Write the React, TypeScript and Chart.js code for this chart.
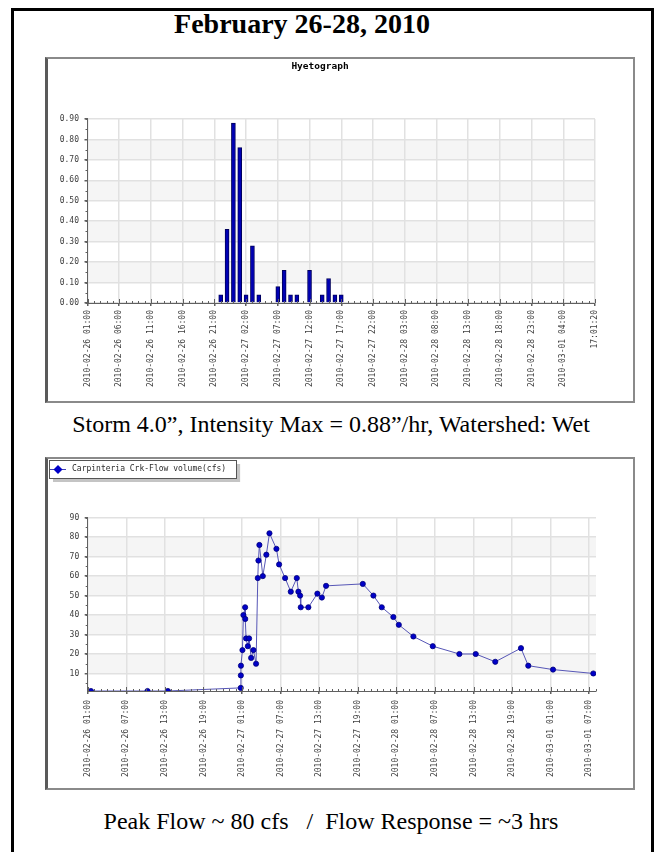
import React, { useEffect, useRef } from 'react';
import { Chart, registerables } from 'chart.js';

Chart.register(...registerables);

// ---------------- data ----------------
const startTime = '2010-02-26 01:00';

const rainTimes = [
  '2010-02-26 22:00', '2010-02-26 23:00', '2010-02-27 00:00', '2010-02-27 01:00',
  '2010-02-27 02:00', '2010-02-27 03:00', '2010-02-27 04:00', '2010-02-27 07:00',
  '2010-02-27 08:00', '2010-02-27 09:00', '2010-02-27 10:00', '2010-02-27 12:00',
  '2010-02-27 14:00', '2010-02-27 15:00', '2010-02-27 16:00', '2010-02-27 17:00',
];
const rainValues = [0.04, 0.36, 0.88, 0.76, 0.04, 0.28, 0.04, 0.08, 0.16, 0.04, 0.04, 0.16, 0.04, 0.12, 0.04, 0.04];

const rainYTicks = [0, 0.1, 0.2, 0.3, 0.4, 0.5, 0.6, 0.7, 0.8, 0.9];
const rainYRange = [0, 0.9];
const rainXTickTimes = [
  '2010-02-26 01:00', '2010-02-26 06:00', '2010-02-26 11:00', '2010-02-26 16:00', '2010-02-26 21:00',
  '2010-02-27 02:00', '2010-02-27 07:00', '2010-02-27 12:00', '2010-02-27 17:00', '2010-02-27 22:00',
  '2010-02-28 03:00', '2010-02-28 08:00', '2010-02-28 13:00', '2010-02-28 18:00', '2010-02-28 23:00',
  '2010-03-01 04:00', '2010-03-01 09:00',
];
const rainXTickLabels = [
  '2010-02-26 01:00', '2010-02-26 06:00', '2010-02-26 11:00', '2010-02-26 16:00', '2010-02-26 21:00',
  '2010-02-27 02:00', '2010-02-27 07:00', '2010-02-27 12:00', '2010-02-27 17:00', '2010-02-27 22:00',
  '2010-02-28 03:00', '2010-02-28 08:00', '2010-02-28 13:00', '2010-02-28 18:00', '2010-02-28 23:00',
  '2010-03-01 04:00', '17:01:20',
];

const flowTimes = [
  '2010-02-26 01:30', '2010-02-26 10:18', '2010-02-26 13:28', '2010-02-27 00:48',
  '2010-02-27 00:49', '2010-02-27 00:50', '2010-02-27 01:04', '2010-02-27 01:13',
  '2010-02-27 01:29', '2010-02-27 01:30', '2010-02-27 01:38', '2010-02-27 01:54',
  '2010-02-27 02:06', '2010-02-27 02:25', '2010-02-27 02:46', '2010-02-27 03:11',
  '2010-02-27 03:27', '2010-02-27 03:33', '2010-02-27 03:42', '2010-02-27 04:14',
  '2010-02-27 04:47', '2010-02-27 05:16', '2010-02-27 06:21', '2010-02-27 06:46',
  '2010-02-27 07:42', '2010-02-27 08:35', '2010-02-27 09:31', '2010-02-27 09:46',
  '2010-02-27 10:02', '2010-02-27 10:08', '2010-02-27 11:19', '2010-02-27 12:43',
  '2010-02-27 13:25', '2010-02-27 14:04', '2010-02-27 19:47', '2010-02-27 21:26',
  '2010-02-27 22:44', '2010-02-28 00:32', '2010-02-28 01:23', '2010-02-28 03:39',
  '2010-02-28 06:40', '2010-02-28 10:48', '2010-02-28 13:21', '2010-02-28 16:23',
  '2010-02-28 20:23', '2010-02-28 21:31', '2010-03-01 01:22', '2010-03-01 07:38',
];
const flowValues = [
  1, 1, 1, 2.6,
  9, 14, 22, 40,
  44, 38, 28, 24,
  28, 18, 22, 15,
  59, 68, 76, 60,
  71, 82, 74, 66,
  59, 52, 59, 52,
  50, 44, 44, 51,
  49, 55, 56, 50,
  44, 39, 35, 29,
  24, 20, 20, 16,
  23, 14, 12, 10,
];

const flowYTicks = [10, 20, 30, 40, 50, 60, 70, 80, 90];
const flowYRange = [1, 90];
const flowXRange = ['2010-02-26 01:00', '2010-03-01 08:03'];
const flowXTickTimes = [
  '2010-02-26 01:00', '2010-02-26 07:00', '2010-02-26 13:00', '2010-02-26 19:00',
  '2010-02-27 01:00', '2010-02-27 07:00', '2010-02-27 13:00', '2010-02-27 19:00',
  '2010-02-28 01:00', '2010-02-28 07:00', '2010-02-28 13:00', '2010-02-28 19:00',
  '2010-03-01 01:00', '2010-03-01 07:00',
];

const flowLabel = 'Carpinteria Crk-Flow volume(cfs)';
const titleText = 'February 26-28, 2010';
const caption1 = 'Storm 4.0\u201D, Intensity Max = 0.88\u201D/hr, Watershed: Wet';
const caption2 = 'Peak Flow ~ 80 cfs   /  Flow Response = ~3 hrs';

// ---------------- helpers ----------------
const toHours = (s: string) => {
  const [d, t] = s.split(' ');
  const [Y, M, D] = d.split('-').map(Number);
  const [h, m] = t.split(':').map(Number);
  const [d0, t0] = startTime.split(' ');
  const [Y0, M0, D0] = d0.split('-').map(Number);
  const [h0, m0] = t0.split(':').map(Number);
  return (Date.UTC(Y, M - 1, D, h, m) - Date.UTC(Y0, M0 - 1, D0, h0, m0)) / 3600000;
};

const MONO = '"DejaVu Sans Mono", monospace';
const GRID = '#e1e1e1';
const AXIS = '#606060';
const TICKTXT = '#404040';

const bandsPlugin = {
  id: 'bands',
  beforeDraw(chart: any, _args: any, opts: any) {
    const { ctx, chartArea: a, scales } = chart;
    const y = scales.y;
    const vals = y.ticks.map((t: any) => t.value);
    ctx.save();
    ctx.fillStyle = opts.color;
    for (let i = 0; i < vals.length - 1; i++) {
      if (Math.round(vals[i] / opts.step) % 2 === 1) {
        const top = y.getPixelForValue(vals[i + 1]);
        const bot = y.getPixelForValue(vals[i]);
        ctx.fillRect(a.left, top, a.right - a.left, bot - top);
      }
    }
    ctx.restore();
  },
};

const minorTicksPlugin = {
  id: 'minorTicks',
  afterDatasetsDraw(chart: any, _args: any, opts: any) {
    const { ctx, chartArea: a, scales } = chart;
    const x = scales.x;
    const y = scales.y;
    ctx.save();
    ctx.strokeStyle = opts.color;
    ctx.lineWidth = 1;
    ctx.beginPath();
    const x0 = Math.ceil(x.min / opts.xStep - 1e-9) * opts.xStep;
    for (let v = x0; v <= x.max + 1e-9; v += opts.xStep) {
      const px = Math.round(x.getPixelForValue(v)) + 0.5;
      ctx.moveTo(px, a.bottom);
      ctx.lineTo(px, a.bottom - opts.len);
    }
    x.ticks.forEach((t: any) => {
      const px = Math.round(x.getPixelForValue(t.value)) + 0.5;
      ctx.moveTo(px, a.bottom);
      ctx.lineTo(px, a.bottom - opts.majorLen);
    });
    const y0 = Math.ceil(y.min / opts.yStep - 1e-9) * opts.yStep;
    for (let v = y0; v <= y.max + 1e-9; v += opts.yStep) {
      const py = Math.round(y.getPixelForValue(v)) + 0.5;
      ctx.moveTo(a.left, py);
      ctx.lineTo(a.left - opts.len, py);
    }
    ctx.stroke();
    ctx.restore();
  },
};

const legendFramePlugin = {
  id: 'legendFrame',
  beforeDraw(chart: any) {
    const lg = chart.legend;
    if (!lg || !lg.legendHitBoxes || !lg.legendHitBoxes.length) return;
    const hb = lg.legendHitBoxes[0];
    const l = hb.left + 1, t = hb.top - 5, r = hb.left + hb.width + 10, b = hb.top + hb.height + 5;
    const ctx = chart.ctx;
    ctx.save();
    ctx.fillStyle = '#c4c4c4';
    ctx.fillRect(l + 4, t + 4, r - l, b - t);
    ctx.fillStyle = '#ffffff';
    ctx.fillRect(l, t, r - l, b - t);
    ctx.restore();
  },
  afterDraw(chart: any) {
    const lg = chart.legend;
    if (!lg || !lg.legendHitBoxes || !lg.legendHitBoxes.length) return;
    const hb = lg.legendHitBoxes[0];
    const l = hb.left + 1, t = hb.top - 5, r = hb.left + hb.width + 10, b = hb.top + hb.height + 5;
    const ctx = chart.ctx;
    ctx.save();
    ctx.strokeStyle = '#555555';
    ctx.lineWidth = 1;
    ctx.strokeRect(Math.round(l) + 0.5, Math.round(t) + 0.5, Math.round(r - l), Math.round(b - t));
    ctx.restore();
  },
};

function makeLegendIcon() {
  const c = document.createElement('canvas');
  c.width = 16;
  c.height = 10;
  const g = c.getContext('2d')!;
  g.strokeStyle = '#4040b0';
  g.lineWidth = 1;
  g.beginPath();
  g.moveTo(0, 5.5);
  g.lineTo(16, 5.5);
  g.stroke();
  g.fillStyle = '#0000c8';
  g.beginPath();
  g.moveTo(8, 1);
  g.lineTo(12.5, 5.5);
  g.lineTo(8, 10);
  g.lineTo(3.5, 5.5);
  g.closePath();
  g.fill();
  return c;
}

const tickFont = { family: MONO, size: 8 };

function rainConfig(): any {
  return {
    type: 'bar',
    data: {
      datasets: [{
        label: 'Rainfall',
        data: rainTimes.map((t, i) => ({ x: toHours(t), y: rainValues[i] })),
        backgroundColor: '#0000b4',
        borderColor: '#00005a',
        borderWidth: 1,
        barThickness: 4,
      }],
    },
    options: {
      responsive: false,
      animation: false,
      events: [],
      layout: { padding: { left: 0, right: 40, top: 0, bottom: 0 } },
      plugins: {
        legend: { display: false },
        tooltip: { enabled: false },
        title: {
          display: true, text: 'Hyetograph', color: '#000',
          font: { family: MONO, size: 9.5, weight: 'bold' },
          padding: { top: 4.3, bottom: 46.3 },
        },
        bands: { step: 0.1, color: '#f5f5f5' },
        minorTicks: { xStep: 1, yStep: 0.05, color: AXIS, len: 2, majorLen: 4 },
      },
      scales: {
        x: {
          type: 'linear', offset: false,
          min: toHours(rainXTickTimes[0]), max: toHours(rainXTickTimes[rainXTickTimes.length - 1]),
          afterBuildTicks: (s: any) => { s.ticks = rainXTickTimes.map((t) => ({ value: toHours(t) })); },
          afterFit: (s: any) => { s.height = 100; },
          grid: { color: GRID, lineWidth: 1.5, drawTicks: true, tickLength: 3, tickColor: AXIS, offset: false },
          border: { color: AXIS, width: 1 },
          ticks: {
            autoSkip: false, minRotation: 90, maxRotation: 90, padding: 4,
            font: tickFont, color: TICKTXT,
            callback: (_v: any, i: number) => rainXTickLabels[i],
          },
        },
        y: {
          min: rainYRange[0], max: rainYRange[1],
          afterBuildTicks: (s: any) => { s.ticks = rainYTicks.map((v) => ({ value: v })); },
          afterFit: (s: any) => { s.width = 42.5; },
          grid: { color: GRID, lineWidth: 1.5, drawTicks: true, tickLength: 3, tickColor: AXIS },
          border: { color: AXIS, width: 1 },
          ticks: {
            padding: 5.5, font: tickFont, color: TICKTXT,
            callback: (v: any) => Number(v).toFixed(2),
          },
        },
      },
    },
    plugins: [bandsPlugin, minorTicksPlugin],
  };
}

function flowConfig(): any {
  return {
    type: 'line',
    data: {
      datasets: [{
        label: flowLabel,
        data: flowTimes.map((t, i) => ({ x: toHours(t), y: flowValues[i] })),
        borderColor: '#5656b6',
        borderWidth: 1,
        pointRadius: 2.6,
        pointBackgroundColor: '#0000c8',
        pointBorderColor: '#00007a',
        pointBorderWidth: 0.8,
        tension: 0,
        fill: false,
      }],
    },
    options: {
      responsive: false,
      animation: false,
      events: [],
      layout: { padding: { left: 0, right: 39, top: 5, bottom: 0 } },
      plugins: {
        tooltip: { enabled: false },
        legend: {
          display: true, position: 'top', align: 'start',
          labels: {
            usePointStyle: true, pointStyle: makeLegendIcon(), pointStyleWidth: 20,
            padding: 3, font: tickFont, color: '#2a2a2a',
          },
        },
        title: {
          display: true, text: '', weight: 500,
          font: { size: 1 }, padding: { top: 0, bottom: 33.5 },
        },
        bands: { step: 10, color: '#f5f5f5' },
        minorTicks: { xStep: 1, yStep: 5, color: AXIS, len: 2, majorLen: 4 },
      },
      scales: {
        x: {
          type: 'linear',
          min: toHours(flowXRange[0]), max: toHours(flowXRange[1]),
          afterBuildTicks: (s: any) => { s.ticks = flowXTickTimes.map((t) => ({ value: toHours(t) })); },
          afterFit: (s: any) => { s.height = 99; },
          grid: { color: GRID, lineWidth: 1.5, drawTicks: true, tickLength: 3, tickColor: AXIS },
          border: { color: AXIS, width: 1 },
          ticks: {
            autoSkip: false, minRotation: 90, maxRotation: 90, padding: 6,
            font: tickFont, color: TICKTXT,
            callback: (_v: any, i: number) => flowXTickTimes[i],
          },
        },
        y: {
          min: flowYRange[0], max: flowYRange[1],
          afterBuildTicks: (s: any) => { s.ticks = flowYTicks.map((v) => ({ value: v })); },
          afterFit: (s: any) => { s.width = 42.7; },
          grid: { color: GRID, lineWidth: 1.5, drawTicks: true, tickLength: 3, tickColor: AXIS },
          border: { color: AXIS, width: 1 },
          ticks: { padding: 5.5, font: tickFont, color: TICKTXT, callback: (v: any) => String(v) },
        },
      },
    },
    plugins: [bandsPlugin, minorTicksPlugin, legendFramePlugin],
  };
}

function ChartPanel({ left, top, width, height, make }: any) {
  const ref = useRef<HTMLCanvasElement | null>(null);
  useEffect(() => {
    const chart = new Chart(ref.current as HTMLCanvasElement, make());
    return () => chart.destroy();
  }, []);
  return (
    <>
      <div style={{ position: 'absolute', left, top, width, height, background: '#fff' }}>
        <canvas ref={ref} width={width} height={height} style={{ display: 'block', width, height }} />
      </div>
      <div style={{
        position: 'absolute', left, top, width, height, boxSizing: 'border-box',
        border: '2px solid #8a8a8a', borderLeft: '3px solid #5a5a5a', pointerEvents: 'none',
      }} />
    </>
  );
}

const serif = '"Liberation Serif", "Times New Roman", Times, serif';

export default function App() {
  return (
    <div style={{ position: 'absolute', left: 0, top: 0, width: 657, height: 852, overflow: 'hidden', background: '#fff' }}>
      <div style={{ position: 'absolute', left: 11, top: 8, width: 643, height: 900, border: '3px solid #000', boxSizing: 'border-box' }} />
      <div style={{ position: 'absolute', left: 0, top: 8, width: 604, textAlign: 'center', font: `bold 28px ${serif}`, lineHeight: '32px', color: '#000' }}>
        {titleText}
      </div>
      <ChartPanel left={45} top={57} width={590} height={346} make={rainConfig} />
      <div style={{ position: 'absolute', left: 0, top: 410, width: 662, textAlign: 'center', font: `24px ${serif}`, lineHeight: '28px', color: '#000', whiteSpace: 'pre' }}>
        {caption1}
      </div>
      <ChartPanel left={45} top={457} width={590} height={333} make={flowConfig} />
      <div style={{ position: 'absolute', left: 0, top: 807, width: 662, textAlign: 'center', font: `24px ${serif}`, lineHeight: '28px', color: '#000', whiteSpace: 'pre' }}>
        {caption2}
      </div>
    </div>
  );
}
